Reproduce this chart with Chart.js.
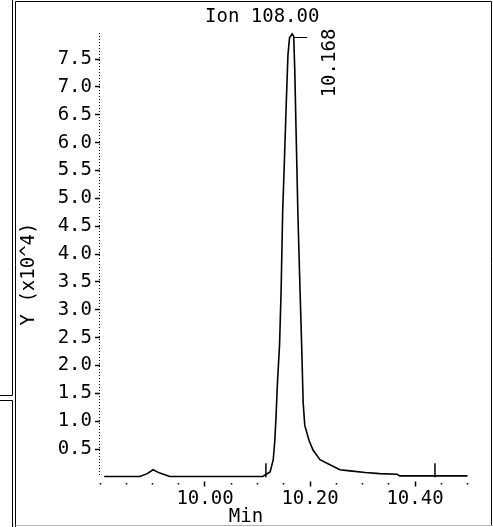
<!DOCTYPE html>
<html>
<head>
<meta charset="utf-8">
<script src="https://cdn.jsdelivr.net/npm/chart.js@4.4.0/dist/chart.umd.min.js"></script>
<style>
  html, body { margin: 0; padding: 0; background: #fff; }
  canvas { display: block; }
</style>
</head>
<body>
<canvas id="chart" width="493" height="527"></canvas>
<script>
// retention time (min) and abundance (x10^4)
const times = [
  9.808, 9.876, 9.890, 9.901, 9.914, 9.933,
  10.110, 10.124, 10.130, 10.133, 10.135, 10.138, 10.142, 10.145, 10.148, 10.151,
  10.155, 10.158, 10.161, 10.166, 10.169, 10.171, 10.174, 10.177, 10.181, 10.184,
  10.187, 10.190, 10.198, 10.206, 10.219, 10.238, 10.257, 10.276, 10.305, 10.333,
  10.366, 10.371, 10.500
];
const abundance = [
  0.01, 0.01, 0.06, 0.13, 0.07, 0.01,
  0.01, 0.09, 0.31, 0.66, 1.02, 1.69, 2.37, 3.36, 4.79, 5.60,
  6.77, 7.57, 7.88, 7.95, 7.91, 7.30, 5.99, 4.70, 3.36, 2.40,
  1.33, 0.93, 0.66, 0.48, 0.31, 0.22, 0.13, 0.11, 0.08, 0.06,
  0.05, 0.02, 0.02
];

// integration start / end markers
const markerTimes = [10.116, 10.438];
const markerLevels = [0.12, 0.12];

// axis labels
const xLabelValues = [10.0, 10.2, 10.4];
const yMin = 0;
const yMax = 7.95;
const ionLabel = 'Ion 108.00';
const peakTime = 10.168;

const FONT = "'DejaVu Sans Mono', monospace";
Chart.defaults.font.family = FONT;
Chart.defaults.font.size = 19;
Chart.defaults.color = '#000';

const isLabelled = v => xLabelValues.some(l => Math.abs(l - v) < 1e-6);

// frame, dotted y axis and free texts
const decorations = {
  id: 'decorations',
  beforeDraw(chart) {
    const ctx = chart.ctx;
    ctx.save();
    ctx.fillStyle = '#fff';
    ctx.fillRect(0, 0, chart.width, chart.height);
    ctx.restore();
  },
  afterDraw(chart) {
    const ctx = chart.ctx;
    const area = chart.chartArea;
    const xs = chart.scales.x;
    ctx.save();
    ctx.strokeStyle = '#000';
    ctx.lineWidth = 1;

    // dotted y axis
    ctx.setLineDash([1, 2]);
    ctx.beginPath();
    ctx.moveTo(area.left - 0.5, area.top - 1);
    ctx.lineTo(area.left - 0.5, area.bottom);
    ctx.stroke();
    ctx.setLineDash([]);

    // window frame
    ctx.beginPath();
    ctx.moveTo(12.5, 0); ctx.lineTo(12.5, 395.5); ctx.lineTo(0, 395.5);
    ctx.moveTo(0, 400.5); ctx.lineTo(12.5, 400.5); ctx.lineTo(12.5, 527);
    ctx.moveTo(15.5, 527); ctx.lineTo(15.5, 1.5); ctx.lineTo(491.5, 1.5); ctx.lineTo(491.5, 525);
    ctx.stroke();
    ctx.strokeStyle = '#b8b8b8';
    ctx.beginPath();
    ctx.moveTo(15.5, 525.5); ctx.lineTo(493, 525.5);
    ctx.stroke();

    // peak label
    const px = xs.getPixelForValue(peakTime);
    ctx.strokeStyle = '#000';
    ctx.beginPath();
    ctx.moveTo(px, area.top + 3.5);
    ctx.lineTo(px + 14, area.top + 3.5);
    ctx.stroke();

    ctx.fillStyle = '#000';
    ctx.font = '19px ' + FONT;
    ctx.textBaseline = 'middle';
    ctx.textAlign = 'left';
    ctx.fillText(ionLabel, 205, 17);

    ctx.textAlign = 'center';
    ctx.fillText('Min', 246, 517);

    ctx.save();
    ctx.translate(px + 37, area.top + 29);
    ctx.rotate(-Math.PI / 2);
    ctx.fillText(peakTime.toFixed(3), 0, 0);
    ctx.restore();

    ctx.save();
    ctx.translate(29, 274);
    ctx.rotate(-Math.PI / 2);
    ctx.fillText('Y (x10^4)', 0, 0);
    ctx.restore();

    ctx.restore();
  }
};

new Chart(document.getElementById('chart'), {
  type: 'line',
  data: {
    datasets: [
      {
        label: ionLabel,
        data: times.map((t, i) => ({ x: t, y: abundance[i] })),
        borderColor: '#000',
        borderWidth: 1.6,
        pointRadius: 0,
        tension: 0,
        clip: false,
      },
      {
        label: 'markers',
        data: markerTimes.map((t, i) => ({ x: t, y: markerLevels[i] })),
        showLine: false,
        pointStyle: 'line',
        rotation: 90,
        pointRadius: 7,
        borderColor: '#000',
        borderWidth: 1.5,
        clip: false,
      },
    ],
  },
  options: {
    responsive: false,
    animation: false,
    devicePixelRatio: 1,
    layout: { padding: { top: 34, right: 25.5, left: 0, bottom: 0 } },
    plugins: {
      legend: { display: false },
      tooltip: { enabled: false },
    },
    scales: {
      x: {
        type: 'linear',
        min: 9.8,
        max: 10.5,
        afterFit: s => { s.height = 50; },
        border: { display: false },
        grid: {
          drawOnChartArea: false,
          tickLength: 10,
          tickWidth: 1.5,
          tickColor: '#000',
          tickBorderDash: ctx => (ctx.tick && isLabelled(ctx.tick.value)) ? [0, 4.5, 5, 20] : [0, 6, 1.5, 20],
        },
        ticks: {
          stepSize: 0.05,
          includeBounds: false,
          autoSkip: false,
          maxRotation: 0,
          padding: 1,
          callback: v => isLabelled(v) ? v.toFixed(2) : '',
        },
      },
      y: {
        min: yMin,
        max: yMax,
        afterFit: s => { s.width = 100; },
        border: { display: false },
        grid: {
          drawOnChartArea: false,
          tickLength: 5,
          tickWidth: 1.5,
          tickColor: ctx => (ctx.tick && ctx.tick.value === 0) ? 'rgba(0,0,0,0)' : '#000',
        },
        ticks: {
          stepSize: 0.5,
          includeBounds: false,
          padding: 3,
          callback: v => v === 0 ? '' : v.toFixed(1),
        },
      },
    },
  },
  plugins: [decorations],
});
</script>
</body>
</html>
